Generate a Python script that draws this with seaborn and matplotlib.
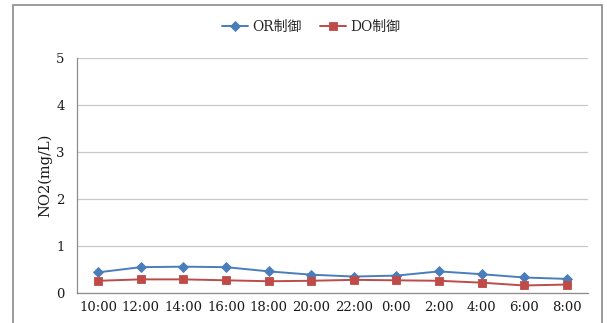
import matplotlib
matplotlib.use("Agg")
import matplotlib.pyplot as plt
import seaborn as sns
import pandas as pd
from matplotlib.patches import Rectangle
from matplotlib.ticker import FixedLocator

# hourly NO2 concentration under two control modes
times = ["10:00", "12:00", "14:00", "16:00", "18:00", "20:00",
         "22:00", "0:00", "2:00", "4:00", "6:00", "8:00"]
or_values = [0.44, 0.55, 0.56, 0.55, 0.46, 0.39, 0.35, 0.37, 0.46, 0.40, 0.33, 0.30]
do_values = [0.26, 0.29, 0.29, 0.27, 0.25, 0.26, 0.28, 0.27, 0.26, 0.22, 0.16, 0.18]
series_names = ["OR制御", "DO制御"]
y_ticks = [0, 1, 2, 3, 4, 5]

df = pd.DataFrame({
    "time": times * 2,
    "value": or_values + do_values,
    "series": [series_names[0]] * len(times) + [series_names[1]] * len(times),
})

sns.set_style("white")
plt.rcParams["font.family"] = ["DejaVu Serif", "Noto Sans CJK JP"]

fig = plt.figure(figsize=(6.07, 3.23), dpi=100)
ax = fig.add_axes([77 / 607, 1 - 293 / 323, (588 - 77) / 607, (293 - 58) / 323])

palette = {series_names[0]: "#4A7EBB", series_names[1]: "#BE4B48"}
markers = {series_names[0]: "D", series_names[1]: "s"}
sns.lineplot(data=df, x="time", y="value", hue="series", style="series",
             markers=markers, dashes=False, palette=palette, sort=False,
             markersize=6, linewidth=1.4, markeredgewidth=0.6, ax=ax)
for line in ax.lines:
    if line.get_marker() == "D":
        line.set_markersize(5.5)
    line.set_markeredgecolor(line.get_color())

ax.set_xlim(-0.5, len(times) - 0.5)
ax.set_ylim(0, 5)
ax.set_yticks(y_ticks)
ax.set_yticklabels([str(t) for t in y_ticks])
ax.set_xticks(range(len(times)))
ax.set_xticklabels(times)
ax.xaxis.set_minor_locator(FixedLocator([i - 0.5 for i in range(len(times) + 1)]))
ax.tick_params(axis="x", which="major", length=0, pad=6, labelsize=9.5, colors="#1a1a1a")
ax.tick_params(axis="x", which="minor", length=5, width=0.8, color="#8c8c8c", direction="out")
ax.tick_params(axis="y", length=5, width=0.8, color="#8c8c8c", pad=4,
               labelsize=9.5, labelcolor="#1a1a1a")
ax.grid(axis="y", color="#c8c8c8", linewidth=0.9)
ax.set_axisbelow(True)
for side in ["top", "right"]:
    ax.spines[side].set_visible(False)
for side in ["left", "bottom"]:
    ax.spines[side].set_color("#8c8c8c")
    ax.spines[side].set_linewidth(0.9)

ax.set_xlabel("")
ax.set_ylabel("NO2(mg/L)", fontsize=10.5, color="#1a1a1a", labelpad=3)

handles, labels = ax.get_legend_handles_labels()
ax.legend(handles, labels, loc="center", bbox_to_anchor=(311 / 607, 1 - 27 / 323),
          bbox_transform=fig.transFigure, ncol=2, frameon=False, fontsize=10,
          handlelength=1.9, handletextpad=0.3, columnspacing=1.3)

# chart frame
fig.patches.append(Rectangle((13 / 607, -0.05), (602 - 13) / 607, 1.05 - 5 / 323,
                             transform=fig.transFigure, fill=False,
                             edgecolor="#8a8a8a", linewidth=1.2, clip_on=False))

fig.savefig("out.png", dpi=100, facecolor="white")
